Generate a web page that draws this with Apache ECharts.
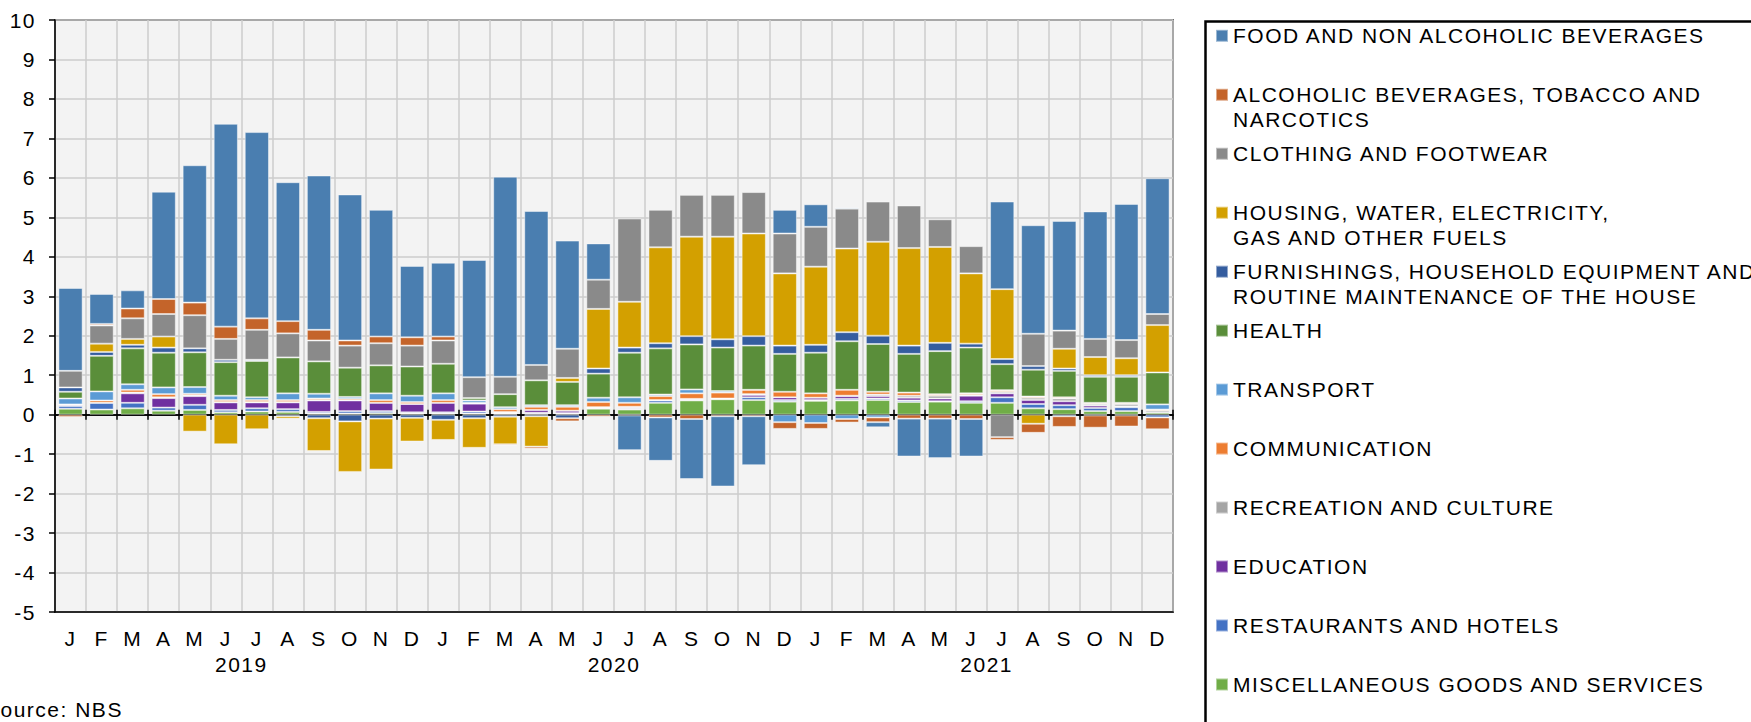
<!DOCTYPE html>
<html>
<head>
<meta charset="utf-8">
<script src="https://cdn.jsdelivr.net/npm/echarts@6/dist/echarts.min.js"></script>
<style>
  html, body { margin: 0; padding: 0; background: #fff; }
  #container { width: 1751px; height: 722px; }
  /* the original text is set a little wider than plain Arial */
  #container svg text { letter-spacing: 1.5px; }
</style>
</head>
<body>
<div id="container"></div>
<script>
var months = ['J','F','M','A','M','J','J','A','S','O','N','D',
              'J','F','M','A','M','J','J','A','S','O','N','D',
              'J','F','M','A','M','J','J','A','S','O','N','D'];
var years = ['2019', '2020', '2021'];
var yTicks = [-5, 10, 1];

var food = [2.10, 0.76, 0.46, 2.72, 3.48, 5.14, 4.72, 3.52, 3.91, 3.70, 3.21, 1.81,
            1.87, 2.97, 5.07, 3.90, 2.74, 0.92, -0.88, -1.10, -1.52, -1.78, -1.24, 0.60,
            0.57, 0.03, -0.13, -0.96, -1.00, -0.95, 2.22, 2.75, 2.78, 3.23, 3.45, 3.44];
var alcohol = [-0.06, 0.04, 0.25, 0.38, 0.32, 0.31, 0.29, 0.31, 0.27, 0.13, 0.17, 0.21,
               0.10, -0.03, -0.03, -0.05, -0.08, -0.05, -0.02, -0.07, -0.11, -0.04, -0.04, -0.17,
               -0.15, -0.09, -0.12, -0.10, -0.10, -0.11, -0.07, -0.23, -0.27, -0.31, -0.28, -0.30];
var clothing = [0.42, 0.46, 0.52, 0.57, 0.84, 0.53, 0.76, 0.61, 0.53, 0.56, 0.56, 0.53,
                0.59, 0.53, 0.44, 0.39, 0.74, 0.74, 2.11, 0.95, 1.06, 1.06, 1.05, 1.01,
                1.01, 1.01, 1.02, 1.08, 0.70, 0.69, -0.57, 0.82, 0.46, 0.46, 0.46, 0.28];
var housing = [0, 0.21, 0.15, 0.28, -0.43, -0.75, -0.37, -0.06, -0.83, -1.28, -1.29, -0.60,
               -0.51, -0.75, -0.70, -0.77, 0.10, 1.51, 1.16, 2.43, 2.52, 2.60, 2.60, 1.83,
               1.98, 2.12, 2.38, 2.47, 2.43, 1.78, 1.77, -0.23, 0.50, 0.46, 0.43, 1.20];
var furnishings = [0.11, 0.10, 0.09, 0.13, 0.10, 0.06, 0.03, -0.04, -0.09, -0.17, -0.10, -0.08,
                   -0.13, -0.09, -0.05, -0.04, -0.09, 0.13, 0.13, 0.13, 0.21, 0.21, 0.24, 0.21,
                   0.20, 0.23, 0.21, 0.21, 0.21, 0.10, 0.13, 0.09, 0.06, 0.04, 0.04, 0];
var health = [0.17, 0.90, 0.91, 0.88, 0.88, 0.85, 0.92, 0.91, 0.82, 0.74, 0.71, 0.74,
              0.75, 0.06, 0.33, 0.63, 0.59, 0.61, 1.13, 1.17, 1.14, 1.10, 1.12, 0.96,
              1.03, 1.23, 1.21, 0.98, 1.09, 1.16, 0.66, 0.68, 0.67, 0.66, 0.66, 0.81];
var transport = [0.15, 0.23, 0.14, 0.17, 0.17, 0.11, 0.07, 0.17, 0.12, 0.05, 0.17, 0.16,
                 0.17, 0.06, 0.05, 0.04, 0.04, 0.11, 0.14, 0.04, 0.10, 0.04, 0, -0.19,
                 -0.21, -0.11, -0.07, 0, 0, 0, 0, 0, -0.04, -0.02, -0.02, 0.13];
var communication = [0.01, 0.06, 0.07, 0.08, 0.04, 0.05, 0.05, 0.05, 0.04, 0.04, 0.07, 0.05,
                     0.07, 0.02, 0.07, 0.08, 0.10, 0.13, 0.10, 0.10, 0.14, 0.15, 0.11, 0.14,
                     0.11, 0.15, 0.07, 0.08, 0.04, 0.04, 0.04, 0.03, 0.03, 0.03, 0.03, 0.03];
var recreation = [0, 0, 0.02, 0.02, 0.02, 0.01, 0.01, 0.01, 0.01, 0, 0, 0,
                  0, 0, 0, 0, 0, 0, 0.01, 0, 0, 0, 0.02, 0,
                  0, 0.01, 0.04, 0.05, 0.07, 0.02, 0.04, 0.06, 0.07, 0.04, 0.06, 0.05];
var education = [0.03, 0, 0.24, 0.24, 0.22, 0.19, 0.15, 0.17, 0.29, 0.27, 0.21, 0.21,
                 0.24, 0.20, 0.03, 0.07, 0.06, 0.02, 0.03, 0.01, 0.01, 0.01, 0.06, 0.07,
                 0.06, 0.07, 0.06, 0.07, 0.07, 0.14, 0.10, 0.10, 0.10, 0.06, 0.02, 0];
var restaurants = [0.07, 0.17, 0.14, 0.08, 0.13, 0.06, 0.08, 0.07, 0.04, 0.06, 0.05, 0.03,
                   0.03, 0.05, 0.02, 0.03, 0.02, 0.02, 0.03, 0.06, 0.03, 0.01, 0.07, 0.04,
                   0.02, 0.04, 0.04, 0.04, 0.01, 0.04, 0.14, 0.11, 0.10, 0.08, 0.10, -0.07];
var misc = [0.15, 0.13, 0.16, 0.10, 0.12, 0.06, 0.08, 0.07, 0.03, 0.03, 0.04, 0.03,
            0.03, 0.03, 0.02, 0.02, 0.02, 0.15, 0.13, 0.30, 0.36, 0.39, 0.37, 0.33,
            0.35, 0.36, 0.37, 0.32, 0.33, 0.30, 0.30, 0.16, 0.14, 0.09, 0.09, 0.05];

// legend order (top to bottom), stacking goes the other way
var groups = [
    {name: 'FOOD AND NON ALCOHOLIC BEVERAGES', data: food, color: '#4A7EB0'},
    {name: 'ALCOHOLIC BEVERAGES, TOBACCO AND\nNARCOTICS', data: alcohol, color: '#C4642A'},
    {name: 'CLOTHING AND FOOTWEAR', data: clothing, color: '#8A8A8A'},
    {name: 'HOUSING, WATER, ELECTRICITY,\nGAS AND OTHER FUELS', data: housing, color: '#D3A000'},
    {name: 'FURNISHINGS, HOUSEHOLD EQUIPMENT AND\nROUTINE MAINTENANCE OF THE HOUSE', data: furnishings, color: '#355D9F'},
    {name: 'HEALTH', data: health, color: '#5A8E3A'},
    {name: 'TRANSPORT', data: transport, color: '#5B9BD5'},
    {name: 'COMMUNICATION', data: communication, color: '#ED7D31'},
    {name: 'RECREATION AND CULTURE', data: recreation, color: '#A5A5A5'},
    {name: 'EDUCATION', data: education, color: '#7030A0'},
    {name: 'RESTAURANTS AND HOTELS', data: restaurants, color: '#4472C4'},
    {name: 'MISCELLANEOUS GOODS AND SERVICES', data: misc, color: '#70AD47'}
];

var FONT = '"Liberation Sans", Arial, sans-serif';

function initChart() {
    var chart = echarts.init(document.getElementById('container'), null, {renderer: 'svg'});

    var series = [];
    for (var i = groups.length - 1; i >= 0; i--) {
        series.push({
            name: groups[i].name,
            type: 'bar',
            stack: 'total',
            barCategoryGap: '22%',
            data: groups[i].data,
            itemStyle: {color: groups[i].color, borderColor: 'rgba(255,255,255,0.45)', borderWidth: 1},
            emphasis: {disabled: true}
        });
    }

    // one legend per entry so each sits on its own fixed slot;
    // two-line names get an empty first line so the marker lines up with line one
    var legends = [];
    var lineH = 25;
    for (var j = 0; j < groups.length; j++) {
        var cy = 35.8 + 58.97 * j;
        var twoLines = groups[j].name.indexOf('\n') >= 0;
        legends.push({
            orient: 'vertical',
            left: 1215,
            top: twoLines ? cy - lineH * 1.5 : cy - lineH / 2,
            padding: 0,
            itemWidth: 12,
            itemHeight: 12,
            icon: 'rect',
            selectedMode: false,
            data: [groups[j].name],
            formatter: twoLines ? function (n) { return '\n' + n; } : '{name}',
            textStyle: {fontFamily: FONT, fontSize: 21, color: '#000', lineHeight: lineH}
        });
    }

    var option = {
        animation: false,
        legend: legends,
        grid: {
            left: 55, right: 578, top: 20, bottom: 110,
            show: true, backgroundColor: '#F3F3F3',
            borderColor: '#000', borderWidth: 1.5
        },
        xAxis: [
            {
                type: 'category', data: months, position: 'bottom',
                axisLine: {onZero: false, lineStyle: {color: '#000', width: 1.5}},
                axisTick: {show: false},
                axisLabel: {interval: 0, margin: 16, color: '#000', fontSize: 21, fontFamily: FONT},
                splitLine: {show: true, interval: 0, lineStyle: {color: '#CDCDCD', width: 1.5}}
            },
            {
                type: 'category', data: years, position: 'bottom', offset: 26,
                axisLine: {show: false}, axisTick: {show: false},
                axisLabel: {color: '#000', fontSize: 21, fontFamily: FONT, margin: 16}
            },
            {
                type: 'category', data: months, position: 'bottom',
                axisLine: {onZero: true, onZeroAxisIndex: 0, lineStyle: {color: '#000', width: 1.5}},
                axisTick: {show: true, interval: 0, length: 5, lineStyle: {color: '#000', width: 1.5}},
                axisLabel: {show: false}
            },
            {
                type: 'category', data: months, position: 'top',
                axisLine: {onZero: true, onZeroAxisIndex: 0, lineStyle: {color: '#000', width: 1.5}},
                axisTick: {show: true, interval: 0, length: 5, lineStyle: {color: '#000', width: 1.5}},
                axisLabel: {show: false}
            }
        ],
        yAxis: {
            type: 'value', min: yTicks[0], max: yTicks[1], interval: yTicks[2],
            axisLine: {show: true, lineStyle: {color: '#000', width: 1.5}},
            axisTick: {show: true, length: 6, lineStyle: {color: '#000', width: 1.5}},
            axisLabel: {margin: 19, color: '#000', fontSize: 21, fontFamily: FONT},
            splitLine: {show: true, lineStyle: {color: '#CDCDCD', width: 1.5}}
        },
        series: series,
        graphic: [
            {
                type: 'rect', left: 1203, top: 19, silent: true,
                shape: {width: 700, height: 800},
                style: {fill: null, stroke: '#000', lineWidth: 2.5}
            },
            {
                type: 'text', left: -15, top: 699, silent: true,
                style: {text: 'Source: NBS', fill: '#000', font: '21px ' + FONT}
            }
        ]
    };

    chart.setOption(option);
}

initChart();
</script>
</body>
</html>
